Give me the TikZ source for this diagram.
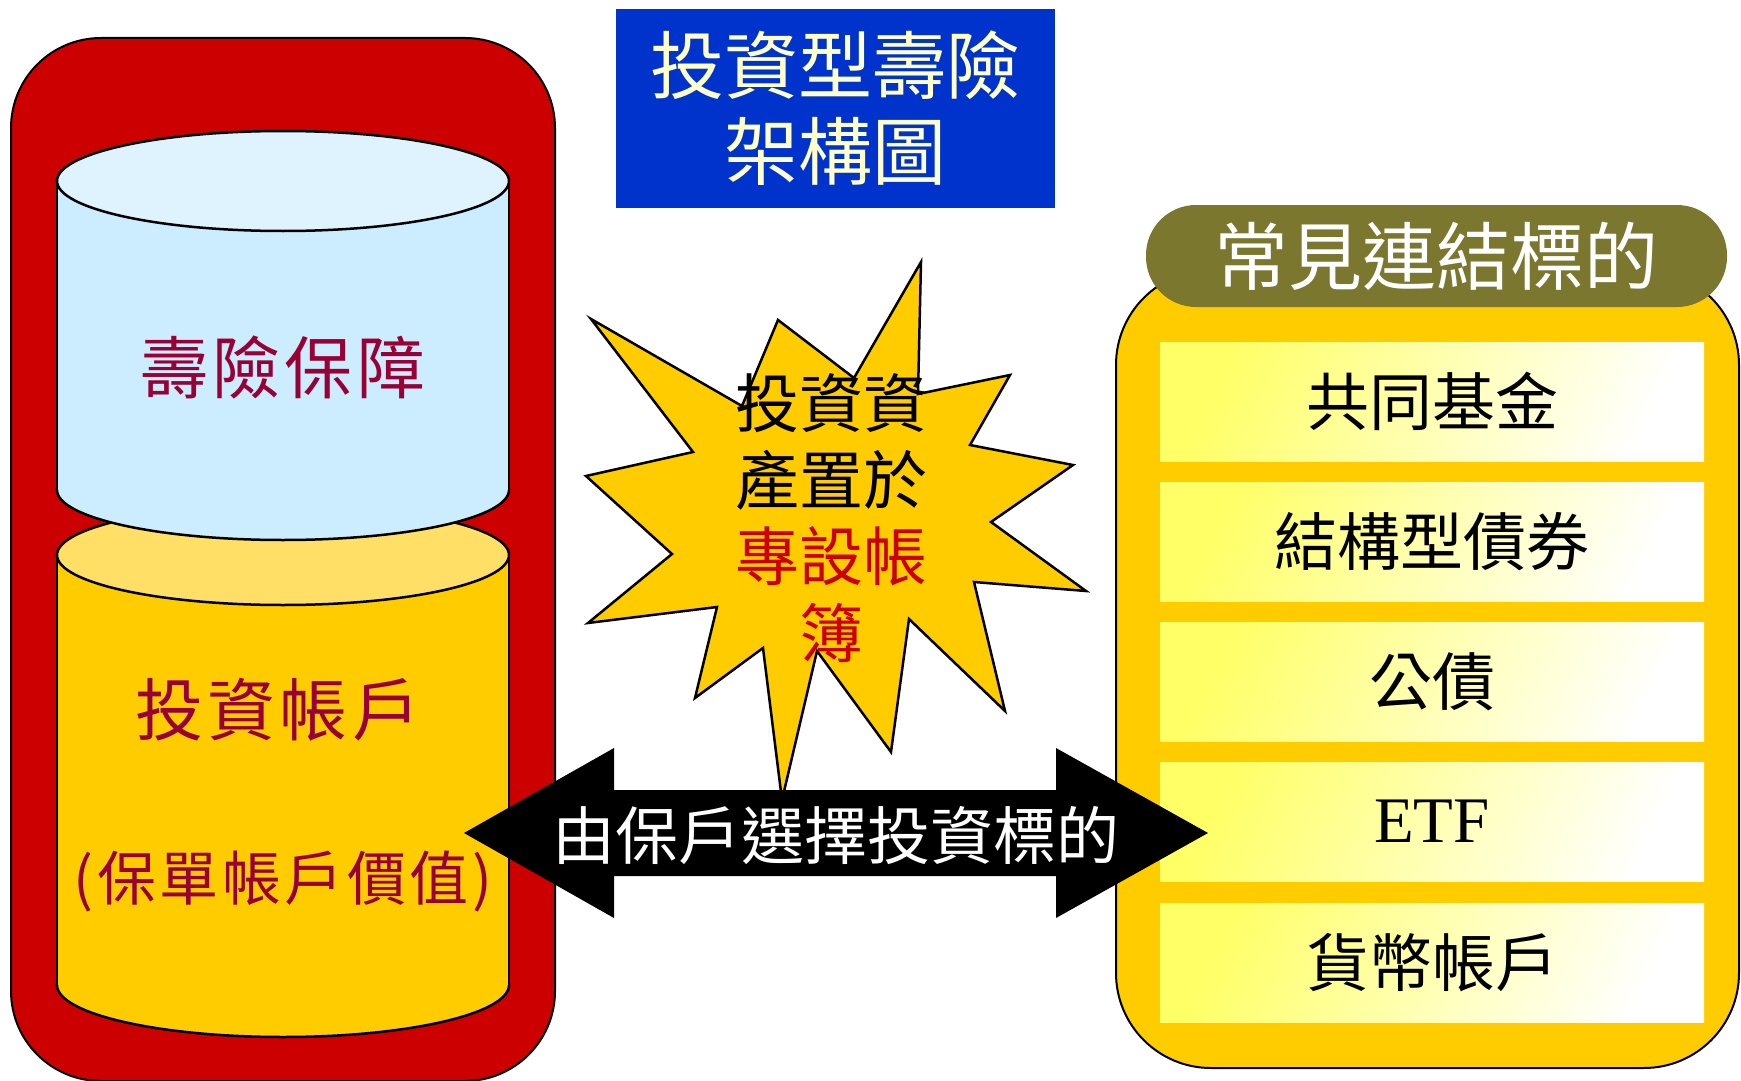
\documentclass[tikz,border=0pt]{standalone}
\usepackage{fontspec}
\setmainfont{Liberation Serif}
\newfontfamily\cjk{Noto Sans CJK TC}
\newfontfamily\cjkw[LetterSpace=6]{Noto Sans CJK TC}
\definecolor{redbox}{HTML}{CC0000}
\definecolor{wine}{HTML}{990033}
\definecolor{gold}{HTML}{FFCC00}
\definecolor{paleblue}{HTML}{CCECFF}
\definecolor{topblue}{HTML}{DFF3FF}
\definecolor{paleyel}{HTML}{FFDF66}
\definecolor{olive}{HTML}{7B772F}
\definecolor{titleblue}{HTML}{0033CC}
\definecolor{cream}{HTML}{FFFFCC}
\definecolor{lemon}{HTML}{FFFF66}
\tikzset{
	cylline/.style={line width=2.5pt},
	cyltext/.style={text=wine,font=\cjkw\fontsize{68}{70}\selectfont},
	item/.style={minimum width=544pt,minimum height=119pt,inner sep=0pt,left color=lemon,right color=white,shading angle=65,font=\cjk\fontsize{63}{70}\selectfont},
	bursttext/.style={align=center,font=\cjk\fontsize{64}{76.5}\selectfont}
}
\begin{document}
\begin{tikzpicture}[x=1pt,y=-1pt]
	\useasboundingbox (0,0) rectangle (1741,1081);

	\draw[fill=redbox,line width=2pt,rounded corners=90pt] (11,38) rectangle (555,1081);

	\filldraw[cylline,fill=gold] (283,985) ellipse [x radius=226,y radius=52];
	\fill[gold] (57,555) rectangle (509,985);
	\draw[cylline] (57,555) -- (57,985) (509,555) -- (509,985);
	\filldraw[cylline,fill=paleyel] (283,555) ellipse [x radius=226,y radius=50];

	\filldraw[cylline,fill=paleblue] (283,490) ellipse [x radius=226,y radius=50];
	\fill[paleblue] (57,181) rectangle (509,490);
	\draw[cylline] (57,181) -- (57,490) (509,181) -- (509,490);
	\filldraw[cylline,fill=topblue] (283,181) ellipse [x radius=226,y radius=50];

	\node[cyltext] (life) at (283,367) {壽險保障};
	\node[cyltext] (invest) at (278,710) {投資帳戶};
	\node[cyltext,font=\cjkw\fontsize{59}{60}\selectfont] (value) at (283,881) {(保單帳戶價值)};

	\node[fill=titleblue,minimum width=439pt,minimum height=199pt,align=center,text=cream,font=\cjk\fontsize{74}{86}\selectfont] (title) at (835.5,108.5) {投資型壽險\\架構圖};

	\draw[fill=gold,line width=2pt,rounded corners=95pt] (1116,270) rectangle (1739,1068);
	\node[fill=olive,rounded corners=50pt,minimum width=581pt,minimum height=102pt,text=white,font=\cjk\fontsize{74}{76}\selectfont] (hdr) at (1436.5,256) {常見連結標的};

	\node[item] (fund) at (1432,401.5) {共同基金};
	\node[item] (note) at (1432,541.5) {結構型債券};
	\node[item] (govt) at (1432,682) {公債};
	\node[item,font=\rmfamily\fontsize{65}{70}\selectfont] (etf) at (1432,821.5) {ETF};
	\node[item] (cash) at (1432,962.5) {貨幣帳戶};

	\draw[fill=gold,line width=2.5pt,line join=miter] (591,319) -- (693,452) -- (586,476) -- (672,554) -- (588,623) -- (717,607) -- (695,698) -- (763,648) -- (782,800) -- (817,651) -- (891,752) -- (909,619) -- (1005,711) -- (974,582) -- (1086,591) -- (991,522) -- (1073,465) -- (970,445) -- (1010,375) -- (918,394) -- (921,262) -- (854,378) -- (778,320) -- (742,406) -- cycle;
	\node[bursttext] (burst) at (831,518) {投資資\\產置於\\\textcolor{redbox}{專設帳}\\\textcolor{redbox}{簿}};

	\fill (464,833) -- (614,748) -- (614,790) -- (1056,790) -- (1056,748) -- (1208,833) -- (1056,918) -- (1056,876) -- (614,876) -- (614,918) -- cycle;
	\node[text=white,font=\cjk\fontsize{63}{64}\selectfont] (choose) at (836,836) {由保戶選擇投資標的};
\end{tikzpicture}
\end{document}
